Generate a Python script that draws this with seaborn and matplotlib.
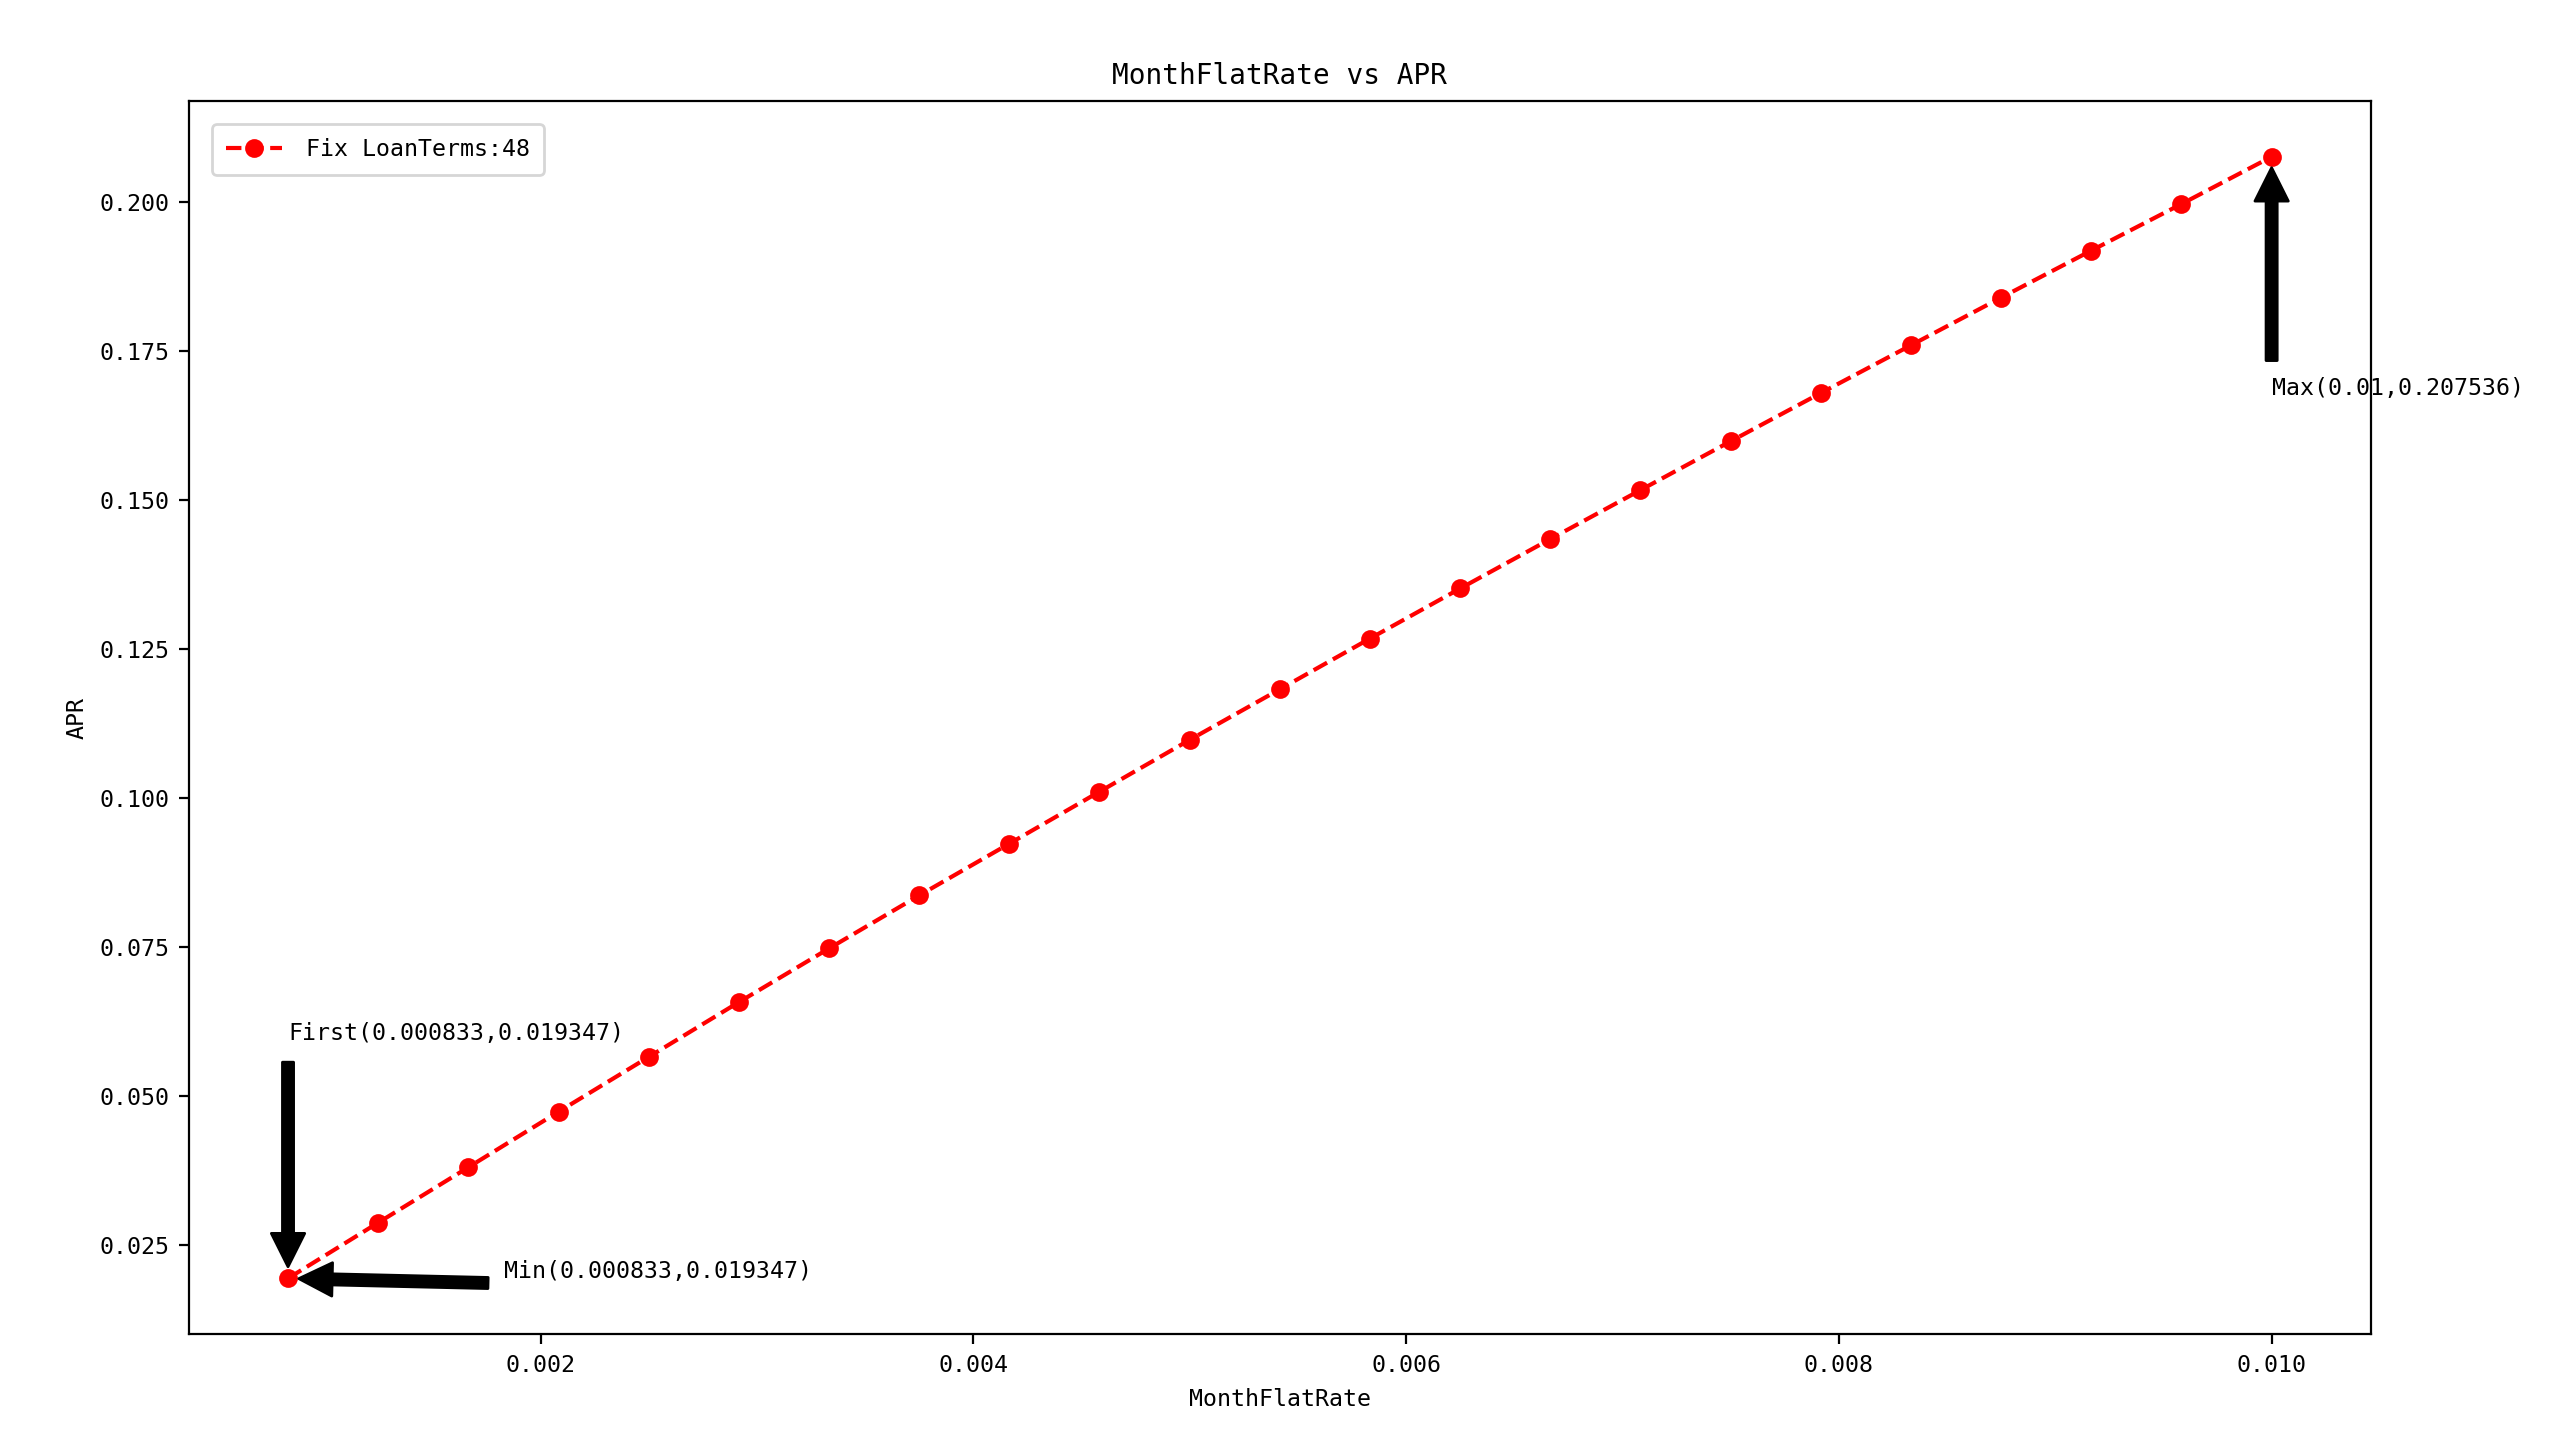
import numpy as np
import pandas as pd
import matplotlib
matplotlib.use("Agg")
import matplotlib.pyplot as plt
import seaborn as sns

# ========== DATA ==========
month_flat_rate = [0.000833, 0.00125, 0.001667, 0.002083, 0.0025, 0.002917,
                   0.003333, 0.00375, 0.004167, 0.004583, 0.005, 0.005417,
                   0.005833, 0.00625, 0.006667, 0.007083, 0.0075, 0.007917,
                   0.008333, 0.00875, 0.009167, 0.009583, 0.01]
apr = [0.019347, 0.0287, 0.0380, 0.0473, 0.0565, 0.0657,
       0.0747, 0.0836, 0.0923, 0.1010, 0.1097, 0.1182,
       0.1267, 0.1351, 0.1434, 0.1516, 0.1598, 0.1679,
       0.1759, 0.1839, 0.1918, 0.1996, 0.207536]
loan_terms = 48

df = pd.DataFrame({'MonthFlatRate': month_flat_rate, 'APR': apr})

# monospace font, a bit smaller since it is wider than the original
plt.rcParams['font.family'] = ['DejaVu Sans Mono', 'Noto Sans CJK SC']
plt.rcParams['font.size'] = 8.4
plt.rcParams['axes.titlesize'] = 10

fig, ax = plt.subplots(figsize=(12.76, 7.19), dpi=200)
fig.subplots_adjust(left=0.074, right=0.929, top=0.930, bottom=0.072)

sns.lineplot(data=df, x='MonthFlatRate', y='APR', ax=ax, color='red',
             linestyle='--', marker='o', markersize=6, markeredgecolor='red',
             label=f'Fix LoanTerms:{loan_terms}')

# min / max / first annotations
i_min = int(np.argmin(apr))
i_max = int(np.argmax(apr))
x0, y0 = month_flat_rate[0], apr[0]
xmn, ymn = month_flat_rate[i_min], apr[i_min]
xmx, ymx = month_flat_rate[i_max], apr[i_max]

arrow = dict(facecolor='black', shrink=0.05)
ax.annotate(f'First({x0:g},{y0:g})', xy=(x0, y0), xytext=(x0, y0 + 0.04),
            arrowprops=arrow)
ax.annotate(f'Min({xmn:g},{ymn:g})', xy=(xmn, ymn), xytext=(xmn + 0.001, ymn),
            arrowprops=arrow)
ax.annotate(f'Max({xmx:g},{ymx:g})', xy=(xmx, ymx), xytext=(xmx, ymx - 0.04),
            arrowprops=arrow)

ax.set_title('MonthFlatRate vs APR')
ax.set_xlabel('MonthFlatRate')
ax.set_ylabel('APR')
ax.legend(loc='upper left', borderaxespad=1.0, handlelength=2.4,
          borderpad=0.6, handletextpad=1.0)

plt.savefig('out.png', dpi=200)
